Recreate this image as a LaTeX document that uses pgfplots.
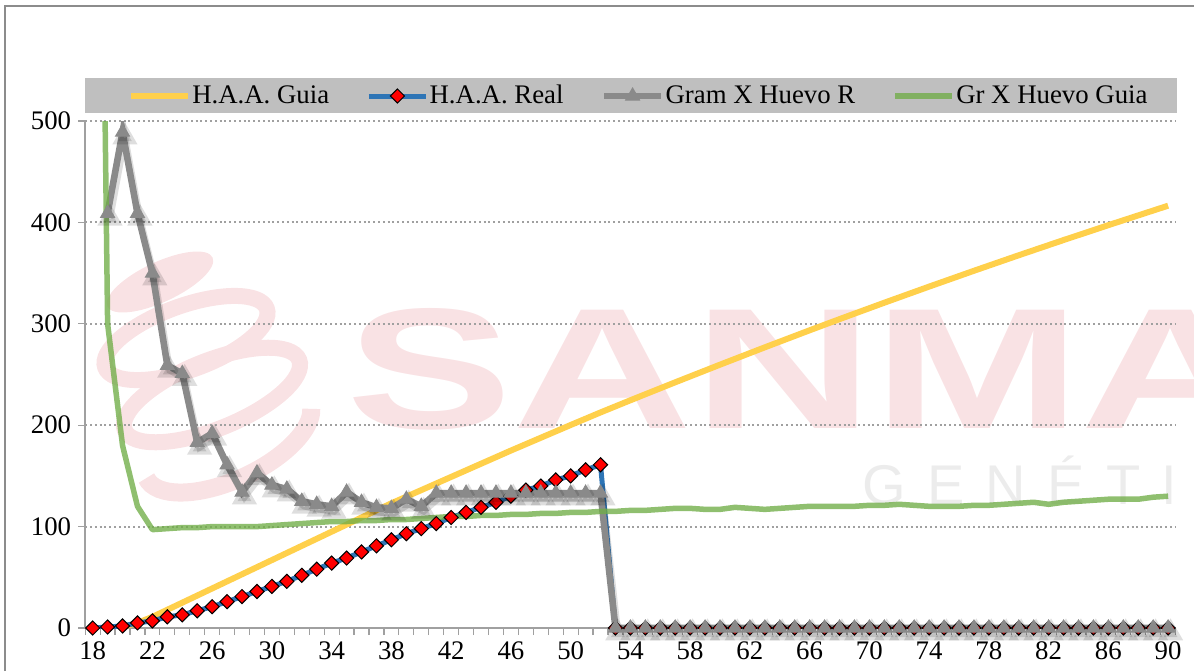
\documentclass[border=0pt]{standalone}
\usepackage{pgfplots}
\pgfplotsset{compat=1.18}
\usepackage{fontspec}
\setmainfont{Liberation Serif}
\newfontfamily\wmbold{Liberation Sans}
\newfontfamily\wmthin[LetterSpace=38]{Liberation Sans}

\definecolor{guia}{RGB}{255,208,75}
\definecolor{real}{RGB}{46,117,182}
\definecolor{gram}{RGB}{138,138,138}
\definecolor{grguia}{RGB}{112,173,71}
\definecolor{band}{RGB}{191,191,191}
\definecolor{wmpink}{RGB}{249,226,228}
\definecolor{wmgray}{RGB}{236,236,236}
\definecolor{axgray}{RGB}{160,160,160}
\definecolor{framegray}{RGB}{140,140,140}

\pgfplotstableread{
week gram
19 409
20 489
21 409
22 350
23 259
24 251
25 183
26 192
27 161
28 134
29 153
30 141
31 137
32 125
33 122
34 120
35 134
36 124
37 119
38 118
39 127
40 120
41 133
42 133
43 133
44 133
45 133
46 133
47 133
48 133
49 133
50 133
51 133
52 133
53 0
54 0
55 0
56 0
57 0
58 0
59 0
60 0
61 0
62 0
63 0
64 0
65 0
66 0
67 0
68 0
69 0
70 0
71 0
72 0
73 0
74 0
75 0
76 0
77 0
78 0
79 0
80 0
81 0
82 0
83 0
84 0
85 0
86 0
87 0
88 0
89 0
90 0
}\gramtable

\begin{document}
\begin{tikzpicture}[x=0.5pt,y=0.5pt]
\useasboundingbox (0,0) rectangle (1194,671);

% watermark (background logo)
\begin{scope}[wmpink]
  \fill[rotate around={25:(160,389)}] (160,389) ellipse [x radius=58, y radius=20];
  \draw[line width=8pt, rotate around={20:(186,333)}] (186,333) ellipse [x radius=86, y radius=32];
  \draw[line width=8pt, rotate around={22:(212,276)}] (212,276) ellipse [x radius=94, y radius=34];
  \draw[line width=9pt, rotate around={25:(228,231)}] (228,231) ++(180:90 and 40) arc [start angle=180, end angle=350, x radius=90, y radius=40];
  \node[anchor=base west, inner sep=0pt, xscale=1.45, font=\wmbold\bfseries\fontsize{86}{86}\selectfont] at (346,243) {SANMA};
\end{scope}
\node[anchor=base west, inner sep=0pt, text=wmgray, font=\wmthin\fontsize{28}{28}\selectfont] at (862,167) {GENÉTI};

% outer frame and legend band
\draw[framegray, line width=0.75pt] (5,0) -- (5,665) -- (1194,665);
\fill[band] (85,558) rectangle (1177,593);

\begin{axis}[
    at={(42.6pt,21.5pt)}, anchor=south west,
    scale only axis,
    width=545.2pt, height=253.5pt,
    xmin=17.5, xmax=90.5,
    ymin=0, ymax=500,
    axis lines*=left,
    axis line style={axgray, line width=0.8pt},
    xtick={18,22,...,90},
    minor xtick={17.5,18.5,...,90.5},
    ytick={0,100,...,500},
    tick align=outside,
    major tick length=3.5pt,
    minor tick length=3.5pt,
    tick style={axgray, line width=0.6pt},
    major x tick style={draw=none},
    ymajorgrids,
    major grid style={axgray, line width=1pt, dash pattern=on 1pt off 1.4pt},
    tick label style={font=\fontsize{13.4}{15}\selectfont},
    /pgf/number format/assume math mode=true,
    /pgf/number format/set thousands separator={},
    legend columns=4,
    legend cell align=left,
    legend style={at={(axis description cs:0.0393,1.0493)}, anchor=west,
        fill=none, draw=none, inner sep=0pt, outer sep=0pt,
        nodes={inner sep=0.6pt},
        font=\fontsize{13.4}{15}\selectfont,
        /tikz/every even column/.append style={column sep=18pt}},
    legend image code/.code={\draw[mark repeat=2,mark phase=2,#1]
        plot coordinates {(0pt,0pt) (14.25pt,0pt) (28.5pt,0pt)};},
]

% H.A.A. Guia
\addplot[guia, line width=3pt, no markers] coordinates {
(18,0)(19,0)(20,1)(21,5)(22,11)(23,18)(24,25)(25,32)(26,39)(27,46)
(28,53)(29,60)(30,67)(31,74)(32,81)(33,88)(34,95)(35,102)(36,109)(37,116)
(38,123)(39,129.5)(40,136)(41,142.5)(42,149)(43,155.5)(44,162)(45,168.5)(46,175)(47,181.3)
(48,187.6)(49,193.9)(50,200.2)(51,206.4)(52,212.6)(53,218.6)(54,224.6)(55,230.5)(56,236.4)(57,242.3)
(58,248.1)(59,253.9)(60,259.7)(61,265.4)(62,271.1)(63,276.8)(64,282.4)(65,288)(66,293.6)(67,299.1)
(68,304.6)(69,310)(70,315.4)(71,320.8)(72,326.1)(73,331.4)(74,336.7)(75,341.9)(76,347.1)(77,352.3)
(78,357.4)(79,362.5)(80,367.6)(81,372.6)(82,377.6)(83,382.6)(84,387.5)(85,392.4)(86,397.3)(87,402.1)
(88,406.9)(89,411.7)(90,416.5)
};
\addlegendentry{H.A.A. Guia}

% H.A.A. Real
\addplot[real, line width=2.5pt, mark=square*, mark size=2.5pt,
    mark options={rotate=45, fill=red, draw=black, line width=0.5pt}] coordinates {
(18,0)(19,1)(20,2)(21,5)(22,7)(23,11)(24,13)(25,17)(26,21)(27,26)
(28,31)(29,36)(30,41)(31,46)(32,52)(33,58)(34,64)(35,69)(36,75)(37,81)
(38,87)(39,93)(40,98)(41,103)(42,109)(43,114)(44,119)(45,124)(46,130)(47,136)
(48,140)(49,146)(50,150)(51,156)(52,161)(53,0)(54,0)(55,0)(56,0)(57,0)
(58,0)(59,0)(60,0)(61,0)(62,0)(63,0)(64,0)(65,0)(66,0)(67,0)
(68,0)(69,0)(70,0)(71,0)(72,0)(73,0)(74,0)(75,0)(76,0)(77,0)
(78,0)(79,0)(80,0)(81,0)(82,0)(83,0)(84,0)(85,0)(86,0)(87,0)
(88,0)(89,0)(90,0)
};
\addlegendentry{H.A.A. Real}

% drop shadow under Gram X Huevo R
\addplot[forget plot, black, opacity=0.13, line width=3.3pt, xshift=1.2pt, yshift=-2.5pt,
    mark=triangle*, mark size=4pt, mark options={draw=none}] table[x=week, y=gram] {\gramtable};

% Gram X Huevo R
\addplot[gram, line width=3.3pt, mark=triangle*, mark size=4pt,
    mark options={fill=gram, draw=gram, line width=0.5pt}] table[x=week, y=gram] {\gramtable};
\addlegendentry{Gram X Huevo R}

% Gr X Huevo Guia
\addplot[grguia, line width=2.75pt, opacity=0.78, line join=round, no markers] coordinates {
(18,1500)(19,300)(20,180)(21,120)(22,97)(23,98)(24,99)(25,99)(26,100)(27,100)
(28,100)(29,100)(30,101)(31,102)(32,103)(33,104)(34,105)(35,105)(36,106)(37,106)
(38,107)(39,107)(40,108)(41,109)(42,110)(43,110)(44,111)(45,111)(46,112)(47,112)
(48,113)(49,113)(50,114)(51,114)(52,115)(53,115)(54,116)(55,116)(56,117)(57,118)
(58,118)(59,117)(60,117)(61,119)(62,118)(63,117)(64,118)(65,119)(66,120)(67,120)
(68,120)(69,120)(70,121)(71,121)(72,122)(73,121)(74,120)(75,120)(76,120)(77,121)
(78,121)(79,122)(80,123)(81,124)(82,122)(83,124)(84,125)(85,126)(86,127)(87,127)
(88,127)(89,129)(90,130)
};
\addlegendentry{Gr X Huevo Guia}

\end{axis}
\end{tikzpicture}
\end{document}
